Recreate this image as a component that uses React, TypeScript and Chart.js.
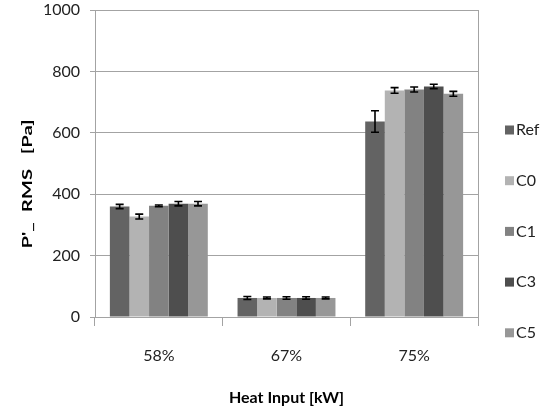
import { useEffect, useRef } from "react";
import { Chart, registerables } from "chart.js";

Chart.register(...registerables);

// ---- data ----
const categories = ["58%", "67%", "75%"];
const seriesNames = ["Ref", "C0", "C1", "C3", "C5"];
const refValues = [360, 62, 637];
const c0Values = [327, 62, 738];
const c1Values = [362, 62, 741];
const c3Values = [369, 62, 751];
const c5Values = [369, 62, 727];
const refErrors = [7, 5, 35];
const c0Errors = [8, 3, 9];
const c1Errors = [3, 4, 8];
const c3Errors = [7, 4, 7];
const c5Errors = [7, 3, 8];
const yTicks = [0, 200, 400, 600, 800, 1000];
const xTitle = "Heat Input [kW]";
const yTitle = "P'_  RMS   [Pa]";

const seriesValues = [refValues, c0Values, c1Values, c3Values, c5Values];
const seriesErrors = [refErrors, c0Errors, c1Errors, c3Errors, c5Errors];
const seriesColors = ["#636363", "#b3b3b3", "#828282", "#4e4e4e", "#979797"];

const FONT = "Lato, 'Noto Sans', sans-serif";
const GRID = "#a3a3a3";

const errorBarPlugin = {
  id: "errorBars",
  afterDatasetsDraw(chart: any) {
    const ctx = chart.ctx;
    const yScale = chart.scales.y;
    chart.data.datasets.forEach((ds: any, i: number) => {
      const meta = chart.getDatasetMeta(i);
      const errs = seriesErrors[i];
      meta.data.forEach((bar: any, j: number) => {
        const v = ds.data[j];
        const e = errs[j];
        const yTop = yScale.getPixelForValue(v + e);
        const yBot = yScale.getPixelForValue(v - e);
        ctx.save();
        ctx.strokeStyle = "#000";
        ctx.lineWidth = 1.6;
        ctx.beginPath();
        ctx.moveTo(bar.x, yTop);
        ctx.lineTo(bar.x, yBot);
        ctx.moveTo(bar.x - 4, yTop);
        ctx.lineTo(bar.x + 4, yTop);
        ctx.moveTo(bar.x - 4, yBot);
        ctx.lineTo(bar.x + 4, yBot);
        ctx.stroke();
        ctx.restore();
      });
    });
  },
};

const sideTextPlugin = {
  id: "sideText",
  afterDraw(chart: any) {
    const ctx = chart.ctx;
    const area = chart.chartArea;
    // y-axis title
    ctx.save();
    ctx.translate(27, 184);
    ctx.rotate(-Math.PI / 2);
    ctx.scale(1.45, 1);
    ctx.font = `bold 14px ${FONT}`;
    ctx.fillStyle = "#000";
    ctx.textAlign = "center";
    ctx.textBaseline = "middle";
    ctx.fillText(yTitle, 0, 0);
    ctx.restore();
    // legend
    ctx.save();
    ctx.font = `16px ${FONT}`;
    ctx.textBaseline = "middle";
    ctx.textAlign = "left";
    const x0 = area.right + 27;
    const y0 = area.top + 120;
    const step = 50.7;
    chart.data.datasets.forEach((ds: any, i: number) => {
      const y = y0 + i * step;
      ctx.fillStyle = ds.backgroundColor;
      ctx.fillRect(x0, y - 4.5, 9, 9);
      ctx.fillStyle = "#222";
      ctx.fillText(ds.label, x0 + 11, y);
    });
    ctx.restore();
  },
};

export default function App() {
  const canvasRef = useRef<HTMLCanvasElement | null>(null);

  useEffect(() => {
    if (!canvasRef.current) return;
    const chart = new Chart(canvasRef.current, {
      type: "bar",
      data: {
        labels: categories,
        datasets: seriesNames.map((name, i) => ({
          label: name,
          data: seriesValues[i],
          backgroundColor: seriesColors[i],
          borderWidth: 0,
          categoryPercentage: 0.767,
          barPercentage: 1,
        })),
      },
      options: {
        animation: false,
        responsive: false,
        maintainAspectRatio: false,
        layout: { padding: { top: 10, right: 73, left: 0, bottom: 0 } },
        plugins: {
          legend: { display: false },
          tooltip: { enabled: false },
        },
        scales: {
          x: {
            afterFit: (scale: any) => {
              scale.height = 93;
              scale.paddingLeft = 0;
              scale.paddingRight = 0;
            },
            grid: {
              offset: true,
              drawOnChartArea: false,
              drawTicks: true,
              tickLength: 9,
              color: GRID,
            },
            border: { display: true, color: GRID, width: 1 },
            ticks: {
              color: "#222",
              font: { family: FONT, size: 16 },
              padding: 20,
            },
            title: {
              display: true,
              text: xTitle,
              color: "#000",
              font: { family: FONT, size: 16, weight: "bold" },
              padding: { top: 0, bottom: 3 },
            },
          },
          y: {
            min: 0,
            max: 1000,
            afterFit: (scale: any) => {
              scale.width = 95;
              scale.paddingTop = 0;
              scale.paddingBottom = 0;
            },
            afterBuildTicks: (scale: any) => {
              scale.ticks = yTicks.map((v) => ({ value: v }));
            },
            grid: {
              color: GRID,
              lineWidth: 1,
              tickLength: 5,
            },
            border: { display: true, color: GRID, width: 1 },
            ticks: {
              color: "#222",
              font: { family: FONT, size: 16 },
              padding: 10,
              callback: (v: any) => String(v),
            },
          },
          yRight: {
            type: "linear",
            position: "right",
            min: 0,
            max: 1000,
            afterFit: (scale: any) => {
              scale.width = 0;
              scale.paddingTop = 0;
              scale.paddingBottom = 0;
            },
            ticks: { display: false },
            grid: { drawOnChartArea: false, drawTicks: false },
            border: { display: true, color: GRID, width: 1 },
          },
        },
      },
      plugins: [errorBarPlugin, sideTextPlugin],
    } as any);
    return () => chart.destroy();
  }, []);

  return (
    <div style={{ position: "fixed", left: 0, top: 0, width: 551, height: 410, background: "#fff" }}>
      <canvas ref={canvasRef} width={551} height={410} style={{ display: "block" }} />
    </div>
  );
}
